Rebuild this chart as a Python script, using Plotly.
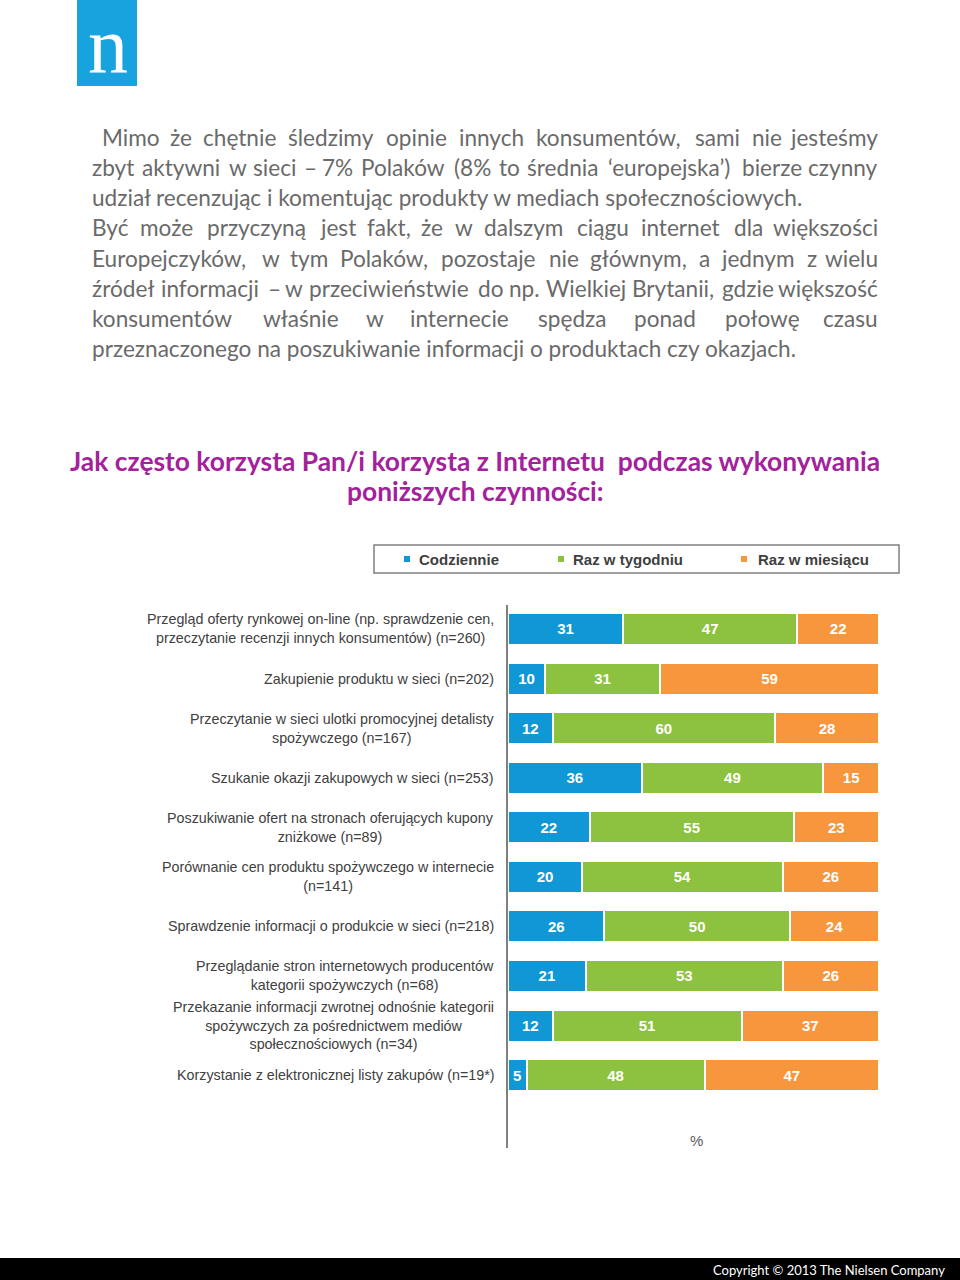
import plotly.graph_objects as go

# ---------------- data ----------------
categories = [
    "Przegląd oferty rynkowej on-line (np. sprawdzenie cen,<br>przeczytanie recenzji innych konsumentów) (n=260)",
    "Zakupienie produktu w sieci (n=202)",
    "Przeczytanie w sieci ulotki promocyjnej detalisty<br>spożywczego (n=167)",
    "Szukanie okazji zakupowych w sieci (n=253)",
    "Poszukiwanie ofert na stronach oferujących kupony<br>zniżkowe (n=89)",
    "Porównanie cen produktu spożywczego w internecie<br>(n=141)",
    "Sprawdzenie informacji o produkcie w sieci (n=218)",
    "Przeglądanie stron internetowych producentów<br>kategorii spożywczych (n=68)",
    "Przekazanie informacji zwrotnej odnośnie kategorii<br>spożywczych za pośrednictwem mediów<br>społecznościowych (n=34)",
    "Korzystanie z elektronicznej listy zakupów (n=19*)",
]
daily = [31, 10, 12, 36, 22, 20, 26, 21, 12, 5]
weekly = [47, 31, 60, 49, 55, 54, 50, 53, 51, 48]
monthly = [22, 59, 28, 15, 23, 26, 24, 26, 37, 47]
series_names = ["Codziennie", "Raz w tygodniu", "Raz w miesiącu"]
series_colors = ["#0f97d6", "#8cc23f", "#f7963d"]

title_lines = [
    "Jak często korzysta Pan/i korzysta z Internetu  podczas wykonywania",
    "poniższych czynności:",
]
paragraph_lines = [
    "Mimo że chętnie śledzimy opinie innych konsumentów, sami nie jesteśmy",
    "zbyt aktywni w sieci – 7% Polaków (8% to średnia ‘europejska’) bierze czynny",
    "udział recenzując i komentując produkty w mediach społecznościowych.",
    "Być może przyczyną jest fakt, że w dalszym ciągu internet dla większości",
    "Europejczyków, w tym Polaków, pozostaje nie głównym, a jednym z wielu",
    "źródeł informacji – w przeciwieństwie do np. Wielkiej Brytanii, gdzie większość",
    "konsumentów właśnie w internecie spędza ponad połowę czasu",
    "przeznaczonego na poszukiwanie informacji o produktach czy okazjach.",
]
paragraph_justified = [True, True, False, True, True, True, True, False]
footer_text = "Copyright © 2013 The Nielsen Company"

# ---------------- helpers ----------------
W, H = 960, 1280


def px(x):
    return x / W


def py(y):
    return 1 - y / H


LATO_W = {
    " ": .193, "a": .49, "ą": .49, "b": .56, "c": .46, "ć": .46, "d": .56, "e": .52, "ę": .52,
    "f": .32, "g": .50, "h": .56, "i": .24, "j": .24, "k": .50, "l": .24, "ł": .27, "m": .84,
    "n": .56, "ń": .56, "o": .55, "ó": .55, "p": .56, "q": .56, "r": .37, "s": .42, "ś": .42,
    "t": .35, "u": .56, "v": .50, "w": .76, "x": .48, "y": .50, "z": .45, "ź": .45, "ż": .45,
    ",": .2, ".": .2, "–": .5, "%": .78, "‘": .2, "’": .2, "(": .3, ")": .3,
    "M": .86, "W": .95, "B": .62, "E": .56, "P": .59,
}
WIDTH_SCALE = 1.04


def word_width(word, fs):
    total = 0.0
    for ch in word:
        if ch in LATO_W:
            total += LATO_W[ch]
        elif ch.isdigit():
            total += .58
        elif ch.isupper():
            total += .63
        else:
            total += .5
    return total * fs * WIDTH_SCALE


annotations = []
shapes = []

# paragraph
PARA_FS = 22.6
PARA_COLOR = "#6a6a6a"
for i, (line, just) in enumerate(zip(paragraph_lines, paragraph_justified)):
    yc = py(138 + 30 * i)
    x0 = 100 if i == 0 else 90
    x1 = 880
    font = dict(family="Lato", size=PARA_FS, color=PARA_COLOR)
    if not just:
        annotations.append(dict(x=px(x0), y=yc, xref="paper", yref="paper", text=line,
                                showarrow=False, xanchor="left", yanchor="middle", font=font))
        continue
    words = line.split(" ")
    widths = [word_width(w, PARA_FS) for w in words]
    gap = (x1 - x0 - sum(widths)) / (len(words) - 1)
    x = x0
    for j, (w, ww) in enumerate(zip(words, widths)):
        if j == len(words) - 1:
            annotations.append(dict(x=px(x1), y=yc, xref="paper", yref="paper", text=w,
                                    showarrow=False, xanchor="right", yanchor="middle", font=font))
        else:
            annotations.append(dict(x=px(x), y=yc, xref="paper", yref="paper", text=w,
                                    showarrow=False, xanchor="left", yanchor="middle", font=font))
        x += ww + gap

# title
for i, t in enumerate(title_lines):
    annotations.append(dict(x=px(475), y=py(461 + 30 * i), xref="paper", yref="paper", text=t,
                            showarrow=False, xanchor="center", yanchor="middle",
                            font=dict(family="Lato", size=26.4, color="#a3229b", weight="bold")))

# logo
shapes.append(dict(type="rect", xref="paper", yref="paper", x0=px(77), x1=px(137), y0=py(86), y1=py(0),
                   fillcolor="#18a2de", line=dict(width=0), layer="below"))
annotations.append(dict(x=px(108), y=py(45), xref="paper", yref="paper", text="n", showarrow=False,
                        xanchor="center", yanchor="middle",
                        font=dict(family="Liberation Serif", size=80, color="white")))

# footer
shapes.append(dict(type="rect", xref="paper", yref="paper", x0=0, x1=1, y0=0, y1=py(1258),
                   fillcolor="black", line=dict(width=0), layer="below"))
annotations.append(dict(x=px(947), y=py(1270), xref="paper", yref="paper", text=footer_text,
                        showarrow=False, xanchor="right", yanchor="middle",
                        font=dict(family="Lato", size=13, color="white")))

# legend (manual)
shapes.append(dict(type="rect", xref="paper", yref="paper", x0=px(374), x1=px(899), y0=py(573), y1=py(545),
                   fillcolor="white", line=dict(color="#808080", width=1.5)))
legend_sq_x = [404, 558, 741]
legend_tx_x = [417, 571, 756]
for name, col, sx, tx in zip(series_names, series_colors, legend_sq_x, legend_tx_x):
    shapes.append(dict(type="rect", xref="paper", yref="paper", x0=px(sx), x1=px(sx + 6),
                       y0=py(562), y1=py(556), fillcolor=col, line=dict(width=0)))
    annotations.append(dict(x=px(tx), y=py(559), xref="paper", yref="paper", text=name, showarrow=False,
                            xanchor="left", yanchor="middle",
                            font=dict(family="Liberation Sans", size=15, color="#404040", weight="bold")))

# category labels (block right-aligned, lines centred)
for c in categories:
    annotations.append(dict(x=px(496), y=c, xref="paper", yref="y", text=c, showarrow=False,
                            xanchor="right", yanchor="middle", align="center",
                            font=dict(family="Liberation Sans", size=14.3, color="#404040")))

# percent label
annotations.append(dict(x=px(696), y=py(1140), xref="paper", yref="paper", text="%", showarrow=False,
                        xanchor="center", yanchor="middle",
                        font=dict(family="Liberation Sans", size=15, color="#595959")))

# ---------------- figure ----------------
fig = go.Figure()
for name, vals, col in zip(series_names, [daily, weekly, monthly], series_colors):
    fig.add_trace(go.Bar(
        y=categories, x=vals, name=name, orientation="h",
        marker=dict(color=col, line=dict(color="white", width=2)),
        text=vals, textposition="inside", insidetextanchor="middle",
        textfont=dict(family="Liberation Sans", size=15, color="white", weight="bold"),
        hoverinfo="skip",
    ))

fig.update_layout(
    width=W, height=H, autosize=False,
    margin=dict(l=0, r=0, t=0, b=0),
    paper_bgcolor="white", plot_bgcolor="white",
    barmode="stack", bargap=0.355,
    showlegend=False,
    uniformtext=dict(minsize=15, mode="show"),
    xaxis=dict(domain=[px(508), px(879)], range=[0, 100], showgrid=False, zeroline=False,
               showticklabels=False, ticks="", showline=False, fixedrange=True),
    yaxis=dict(domain=[py(1148), py(605)], type="category", categoryorder="array",
               categoryarray=categories, range=[10.47, -0.484], showgrid=False, zeroline=False,
               showticklabels=False, ticks="", showline=True, linecolor="#808080", linewidth=1.5,
               fixedrange=True),
    annotations=annotations,
    shapes=shapes,
)

fig.write_html("out.html", config={"displayModeBar": False},
               post_script="document.body.style.margin='0px';document.body.style.padding='0px';")
